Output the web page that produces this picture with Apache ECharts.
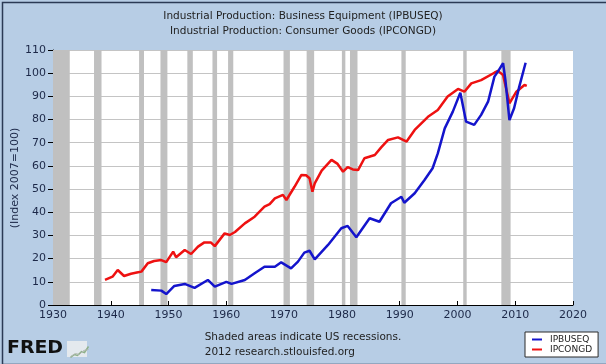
<!DOCTYPE html>
<html>
<head>
<meta charset="utf-8">
<script src="https://cdn.jsdelivr.net/npm/echarts@6/dist/echarts.min.js"></script>
<style>
html,body{margin:0;padding:0;background:#b7cde5;}
#c{width:606px;height:364px;}
</style>
</head>
<body>
<div id="c"></div>
<script>
// IPBUSEQ (Business Equipment)
const busYears  = [1947.0,1948.75,1949.6,1951.0,1952.8,1954.5,1956.8,1958.0,1960.0,1960.9,1963.2,1964.9,1966.6,1968.4,1969.5,1971.2,1972.4,1973.5,1974.4,1975.3,1977.6,1979.9,1981.0,1982.5,1984.8,1986.5,1988.5,1990.3,1990.8,1992.6,1994.3,1995.7,1996.6,1997.8,1999.2,2000.5,2001.5,2002.9,2004.1,2005.3,2006.4,2007.0,2007.9,2008.3,2009.0,2009.8,2010.7,2011.8];
const busValues = [6.5,6.2,4.7,8.2,9.1,7.4,10.8,7.9,10.0,9.1,10.8,13.7,16.5,16.5,18.4,15.8,18.7,22.6,23.4,19.7,25.9,33.1,34.1,29.2,37.4,35.9,43.9,46.7,44.1,48.2,53.9,59.0,65.4,76.2,83.4,91.6,79.1,77.7,82.0,87.7,98.5,100.7,104.3,97.0,79.8,84.9,94.2,104.5];
// IPCONGD (Consumer Goods)
const conYears  = [1939.0,1940.3,1941.2,1942.3,1943.5,1944.5,1945.3,1946.4,1947.5,1948.75,1949.6,1950.8,1951.3,1952.8,1953.9,1955.1,1956.2,1957.3,1958.0,1959.7,1960.6,1961.5,1963.2,1964.9,1966.6,1967.5,1968.4,1969.8,1970.4,1971.8,1973.0,1973.8,1974.4,1974.9,1975.3,1976.5,1978.2,1979.2,1980.2,1981.0,1981.9,1982.8,1983.9,1985.7,1986.8,1988.0,1989.7,1990.6,1991.2,1992.6,1994.9,1996.6,1998.3,2000.1,2001.2,2002.4,2004.1,2006.4,2007.0,2007.9,2009.0,2010.2,2011.6,2012.0];
const conValues = [10.8,12.2,15.1,12.5,13.5,14.0,14.4,18.0,19.0,19.4,18.5,23.0,20.6,23.7,22.0,25.2,27.0,27.0,25.4,30.9,30.2,31.5,35.2,38.1,42.4,43.5,46.0,47.5,45.3,51.0,56.1,56.0,54.7,48.9,52.5,58.0,62.6,61.0,57.5,59.5,58.5,58.2,63.3,64.7,68.0,71.2,72.3,71.2,70.5,75.5,81.2,84.1,89.9,93.2,92.0,95.6,97.0,100.2,101.0,99.2,87.0,92.0,94.9,94.5];
// US recessions (start, end)
const recStart = [1930.0,1937.1,1944.9,1948.6,1953.25,1957.6,1960.3,1969.9,1973.9,1980.0,1981.4,1990.3,2001.0,2007.6];
const recEnd   = [1932.9,1938.4,1945.75,1949.8,1954.2,1958.4,1961.2,1971.0,1975.2,1980.6,1982.7,1991.05,2001.6,2009.2];
// Axis ticks
const xTicks = [1930,1940,1950,1960,1970,1980,1990,2000,2010,2020];
const yTicks = [0,10,20,30,40,50,60,70,80,90,100,110];

const FONT = 'DejaVu Sans';
const TXT = '#1c2848';
const chart = echarts.init(document.getElementById('c'), null, {renderer:'canvas'});
const busData = busYears.map((y,i)=>[y,busValues[i]]);
const conData = conYears.map((y,i)=>[y,conValues[i]]);
const recData = recStart.map((s,i)=>[{xAxis:s},{xAxis:recEnd[i]}]);

chart.setOption({
  animation:false,
  backgroundColor:'#b7cde5',
  title:{
    text:'Industrial Production: Business Equipment (IPBUSEQ)\nIndustrial Production: Consumer Goods (IPCONGD)',
    left:'center', top:4,
    textStyle:{fontFamily:FONT,fontSize:10.5,fontWeight:'normal',color:'#222',lineHeight:15}
  },
  grid:{left:53,right:33,top:50,bottom:59,show:true,backgroundColor:'#fff',borderWidth:0,
        outerBoundsMode:'none',containLabel:false},
  xAxis:{
    type:'value', min:xTicks[0], max:xTicks[xTicks.length-1], interval:10,
    axisLine:{lineStyle:{color:'#000',width:1}},
    axisTick:{inside:true,length:4,lineStyle:{color:'#000'}},
    axisLabel:{fontFamily:FONT,fontSize:11,color:TXT,margin:5,formatter:v=>String(v)},
    splitLine:{show:false}
  },
  yAxis:{
    type:'value', min:yTicks[0], max:yTicks[yTicks.length-1], interval:10,
    axisLine:{show:true,lineStyle:{color:'#000',width:1}},
    axisTick:{show:true,length:5,lineStyle:{color:'#000'}},
    axisLabel:{fontFamily:FONT,fontSize:11,color:TXT,margin:7},
    splitLine:{lineStyle:{color:'#c4c4c4',width:1}}
  },
  legend:{
    orient:'vertical', left:525, top:332,
    data:['IPBUSEQ','IPCONGD'],
    backgroundColor:'#fff', borderColor:'#2b2b2b', borderWidth:1,
    padding:[3,6,3,7], itemGap:1, itemWidth:10, itemHeight:2,
    icon:'rect',
    textStyle:{fontFamily:FONT,fontSize:9,color:'#222',padding:[0,0,0,3]}
  },
  graphic:[
    {type:'rect',left:0,top:0,shape:{x:0.5,y:0.5,width:604.5,height:362},style:{fill:null,stroke:'#2b3a55',lineWidth:1.5},silent:true},
    {type:'text',x:15,y:178,rotation:Math.PI/2,style:{text:'(Index 2007=100)',fontFamily:FONT,fontSize:11,fill:TXT,align:'center',verticalAlign:'middle'}},
    {type:'text',left:'center',top:330,style:{text:'Shaded areas indicate US recessions.\n2012 research.stlouisfed.org',fontFamily:FONT,fontSize:10.5,fill:'#222',align:'center',lineHeight:15}},
    {type:'text',left:7,top:339,scaleX:1.05,style:{text:'FRED',fontFamily:FONT,fontWeight:'bold',fontSize:18,fill:'#111'}},
    {type:'rect',left:67,top:341,shape:{width:20,height:16},style:{fill:'#e4e9ee'}},
    {type:'polyline',left:68,top:344,shape:{points:[[0,11],[4,8],[7,9],[11,5],[14,6],[18,0]]},style:{stroke:'#8fb08a',lineWidth:1.5,fill:null}},
    {type:'polyline',left:68,top:347,shape:{points:[[0,9],[5,6],[9,7],[13,3],[18,2]]},style:{stroke:'#b0b8b0',lineWidth:1,fill:null}}
  ],
  series:[
    {type:'line',name:'recessions',data:[],silent:true,z:1,
     markArea:{silent:true,itemStyle:{color:'#c0c0c0',opacity:1},data:recData}},
    {type:'line',name:'IPCONGD',data:conData,showSymbol:false,symbol:'none',z:3,
     lineStyle:{color:'#ee1111',width:2.5},itemStyle:{color:'#ee1111'}},
    {type:'line',name:'IPBUSEQ',data:busData,showSymbol:false,symbol:'none',z:4,
     lineStyle:{color:'#1414cc',width:2.5},itemStyle:{color:'#1414cc'}}
  ]
});
</script>
</body>
</html>
